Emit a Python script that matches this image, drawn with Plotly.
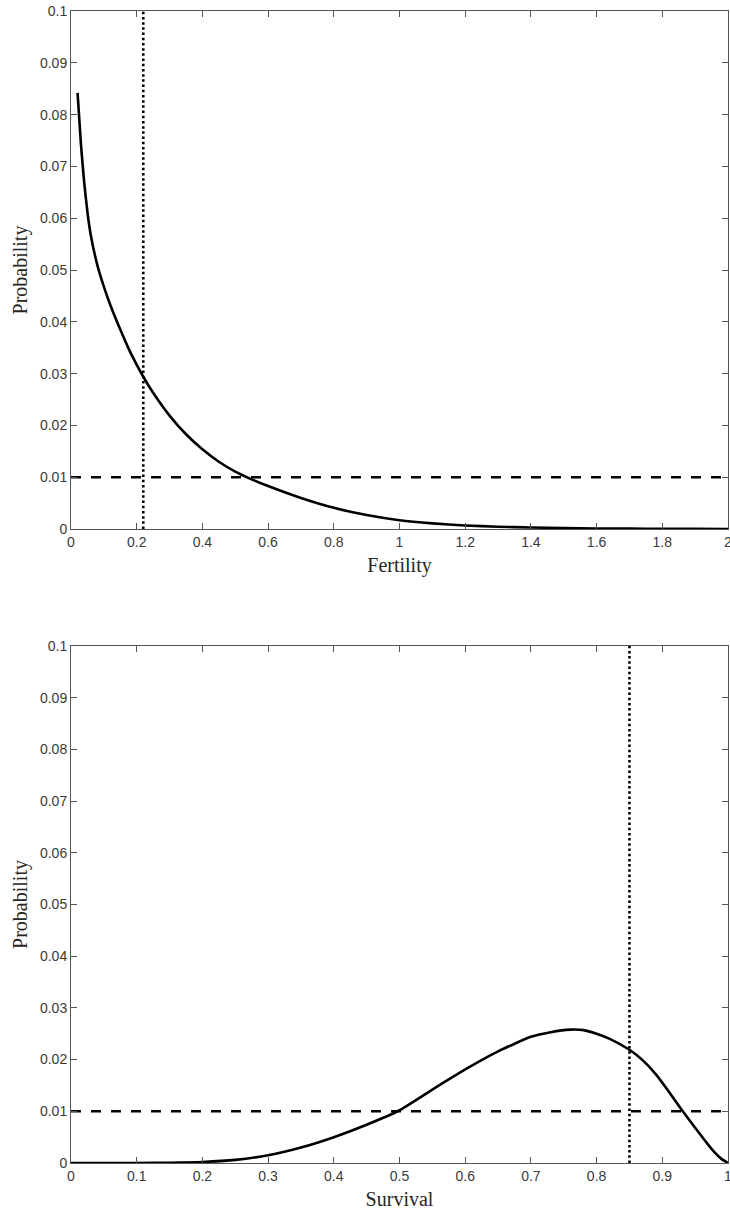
import plotly.graph_objects as go

# ---- data ----
fert_x = [0.02, 0.03, 0.04, 0.05, 0.06, 0.08, 0.10, 0.12, 0.15, 0.18, 0.22, 0.25, 0.30,
          0.35, 0.40, 0.45, 0.50, 0.55, 0.60, 0.70, 0.80, 0.90, 1.00, 1.10, 1.20, 1.30,
          1.40, 1.50, 1.60, 1.70, 1.80, 1.90, 2.00]
fert_y = [0.0842, 0.0745, 0.0670, 0.0612, 0.0568, 0.0510, 0.0468, 0.0432, 0.0385, 0.0342,
          0.0294, 0.0263, 0.0219, 0.0183, 0.0154, 0.0130, 0.0111, 0.0096, 0.0083, 0.0060,
          0.0041, 0.0027, 0.0017, 0.0011, 0.0007, 0.00045, 0.0003, 0.0002, 0.00012,
          0.00008, 0.00005, 0.00003, 0.00002]

surv_x = [0.0, 0.05, 0.10, 0.15, 0.20, 0.25, 0.30, 0.35, 0.40, 0.45, 0.50, 0.55, 0.60,
          0.65, 0.70, 0.73, 0.76, 0.78, 0.80, 0.82, 0.85, 0.87, 0.89, 0.91, 0.93, 0.95,
          0.97, 0.98, 0.99, 1.00]
surv_y = [0.0, 0.0, 0.00001, 0.00006, 0.0002, 0.0006, 0.0015, 0.0030, 0.0050, 0.0074,
          0.0102, 0.0142, 0.0181, 0.0216, 0.0244, 0.0253, 0.0258, 0.0257, 0.0250, 0.0240,
          0.0219, 0.0199, 0.0172, 0.0138, 0.0102, 0.0068, 0.0035, 0.0020, 0.0008, 0.0]

fert_marker = 0.22
surv_marker = 0.85
threshold = 0.01

fert_ticks = [0, 0.2, 0.4, 0.6, 0.8, 1, 1.2, 1.4, 1.6, 1.8, 2]
surv_ticks = [0, 0.1, 0.2, 0.3, 0.4, 0.5, 0.6, 0.7, 0.8, 0.9, 1]
prob_ticks = [0, 0.01, 0.02, 0.03, 0.04, 0.05, 0.06, 0.07, 0.08, 0.09, 0.1]

fig = go.Figure()

def add_panel(fig, xs, ys, marker, xmax, xa, ya):
    fig.add_trace(go.Scatter(x=xs, y=ys, mode="lines", xaxis=xa, yaxis=ya,
                             line=dict(color="black", width=2.6, shape="spline", smoothing=0.5),
                             showlegend=False, hoverinfo="skip"))
    fig.add_trace(go.Scatter(x=[0, xmax], y=[threshold, threshold], mode="lines",
                             xaxis=xa, yaxis=ya,
                             line=dict(color="black", width=2.6, dash="10px,10px"),
                             showlegend=False, hoverinfo="skip"))
    fig.add_trace(go.Scatter(x=[marker, marker], y=[0, 0.1], mode="lines",
                             xaxis=xa, yaxis=ya,
                             line=dict(color="black", width=2.6, dash="2.5px,2.7px"),
                             showlegend=False, hoverinfo="skip"))

add_panel(fig, fert_x, fert_y, fert_marker, 2, "x", "y")
add_panel(fig, surv_x, surv_y, surv_marker, 1, "x2", "y2")

tickfont = dict(family="Liberation Sans, Arial, sans-serif", size=14, color="#3a3a3a")
titlefont = dict(family="Liberation Serif, Times New Roman, serif", size=20, color="#262626")

common_axis = dict(showline=True, linecolor="#555555", linewidth=1, mirror="ticks",
                   ticks="inside", ticklen=6, tickwidth=1, tickcolor="#555555",
                   showgrid=False, zeroline=False, tickfont=tickfont, automargin=False,
                   ticklabeloverflow="allow")

fig.update_layout(
    width=730, height=1214,
    paper_bgcolor="white", plot_bgcolor="white",
    margin=dict(l=71, r=2, t=11, b=51),
    xaxis=dict(common_axis, range=[0, 2], tickvals=fert_ticks,
               ticktext=[f"{v:g}" for v in fert_ticks], anchor="y", domain=[0, 1],
               title=dict(text="Fertility", font=titlefont, standoff=9)),
    yaxis=dict(common_axis, range=[0, 0.1], tickvals=prob_ticks,
               ticktext=[f"{v:g}" for v in prob_ticks], anchor="x", domain=[0.5503, 1],
               title=dict(text="Probability", font=titlefont, standoff=6)),
    xaxis2=dict(common_axis, range=[0, 1], tickvals=surv_ticks,
                ticktext=[f"{v:g}" for v in surv_ticks], anchor="y2", domain=[0, 1],
                title=dict(text="Survival", font=titlefont, standoff=9)),
    yaxis2=dict(common_axis, range=[0, 0.1], tickvals=prob_ticks,
                ticktext=[f"{v:g}" for v in prob_ticks], anchor="x2", domain=[0, 0.4488],
                title=dict(text="Probability", font=titlefont, standoff=6)),
)

fig.write_html("out.html", config={"displayModeBar": False},
               post_script="document.body.style.margin='0';document.body.style.overflow='hidden';")
